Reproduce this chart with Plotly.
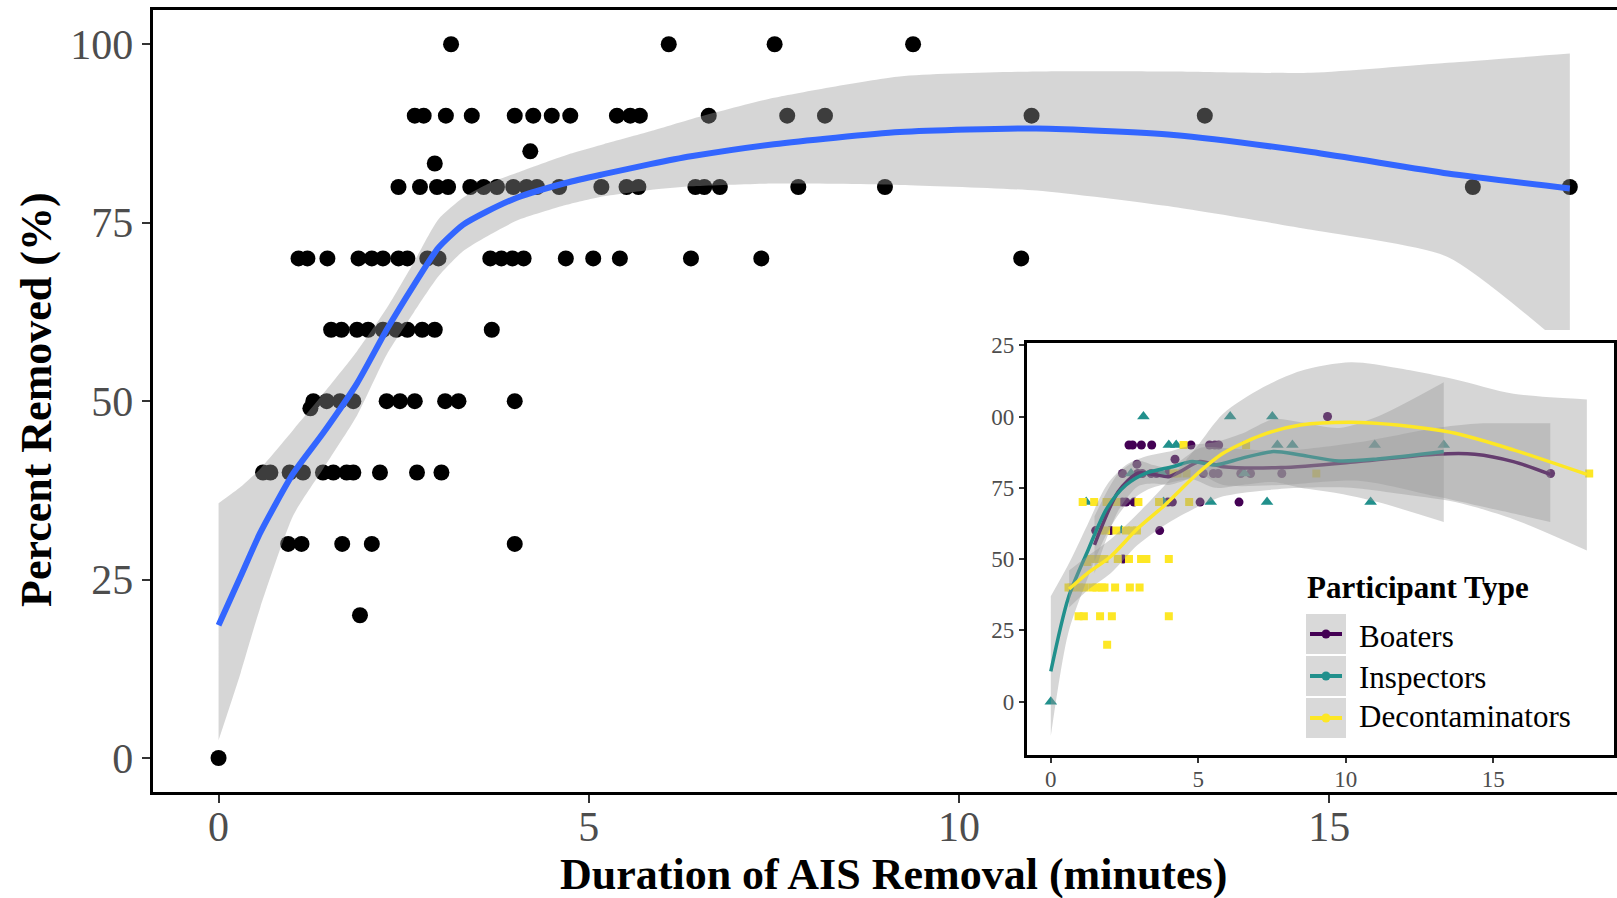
import plotly.graph_objects as go

W, H = 1617, 898

# ---------------- data ----------------
# Boaters
boat_x = [9.38, 2.65, 2.77, 3.07, 3.42, 4.75, 5.38, 5.56, 5.69, 2.92, 4.21,
          2.43, 2.95, 3.10, 3.40, 3.58, 3.98, 5.17, 5.51, 5.67, 6.44, 6.77, 7.83, 16.94,
          2.43, 2.55, 2.82, 3.97, 4.12, 5.06, 6.38, 1.52, 2.02, 3.69, 2.45]
boat_y = [100, 90, 90, 90, 90, 90, 90, 90, 90, 83.3, 85,
          80, 80, 80, 80, 80, 80, 80, 80, 80, 80, 80, 80, 80,
          70, 70, 70, 70, 70, 70, 70, 60, 60, 60, 50]
# Inspectors
insp_x = [3.14, 6.08, 7.51, 4.0, 4.25, 7.68, 8.19, 10.98, 13.32, 2.72, 3.76, 6.56,
          1.2, 3.82, 5.42, 7.33, 10.84, 2.4, 0]
insp_y = [100, 100, 100, 90, 90, 90, 90, 90, 90, 80, 80, 80,
          70, 70, 70, 70, 70, 60, 0]
# Decontaminators
deco_x = [4.5, 6.62, 4.16, 4.30, 4.60, 9.0, 18.25,
          1.08, 1.47, 1.89, 2.07, 2.22, 2.97, 3.67, 4.69,
          1.66, 1.87, 2.22, 2.55, 2.75, 2.92,
          1.28, 1.46, 1.64, 1.82, 2.27, 2.65, 3.06, 3.24, 4.0, 1.24,
          0.6, 0.7, 0.96, 1.14, 1.41, 1.55, 1.73, 1.82, 2.18, 2.68, 3.01,
          0.94, 1.12, 1.67, 2.07, 4.0, 1.91]
deco_y = [90, 90, 80, 80, 80, 80, 80,
          70, 70, 70, 70, 70, 70, 70, 70,
          60, 60, 60, 60, 60, 60,
          50, 50, 50, 50, 50, 50, 50, 50, 50, 49,
          40, 40, 40, 40, 40, 40, 40, 40, 40, 40, 40,
          30, 30, 30, 30, 30, 20]

# overall smooth (loess) with confidence band
fit_x = [0, 0.3, 0.56, 1.01, 1.41, 1.87, 2.27, 2.64, 2.97, 3.3, 3.61, 4.03, 4.7, 5.2,
         5.83, 6.38, 7.5, 9.2, 11.05, 12.9, 14.76, 16.6, 18.25]
fit_y = [18.6, 25.5, 31.5, 39.9, 45.5, 52.5, 60, 66.3, 71.5, 74.7, 76.5, 78.5, 80.6, 81.8,
         83.2, 84.3, 86.0, 87.7, 88.2, 87.3, 84.9, 81.9, 79.8]
fit_hi = [35.7, 38, 40.5, 46, 51, 57, 63, 69.5, 75.5, 78.5, 80.3, 82, 84.5, 86,
          87.8, 89.5, 92.5, 95.5, 96.2, 96.2, 96.0, 97.4, 98.7]
fit_lo = [2.5, 12, 21, 34, 40.5, 48, 56.5, 62.5, 67.5, 71, 73, 75.3, 77.5, 78.7,
          79.6, 80.1, 80.5, 80.3, 79.5, 77.2, 74, 70.2, 57]

# per-group smooths (inset)
boat_fx = [1.48, 2.29, 2.95, 3.47, 4.0, 4.39, 5.05, 5.84, 7.8, 10.43, 13.05, 14.37, 15.68, 16.93]
boat_fy = [55, 73.7, 80.1, 79.7, 78.9, 80.7, 84.2, 82.4, 82.1, 84.2, 86.8, 86.8, 84.2, 79.7]
boat_hi = [65, 80, 84.5, 83, 82, 84.5, 89, 89, 88, 91, 96, 97.5, 97.6, 97.6]
boat_lo = [45, 67, 75.5, 76.5, 76, 77, 79.5, 76, 76, 77.5, 72, 69, 66, 63]

insp_fx = [0, 0.59, 1.24, 1.9, 2.55, 3.21, 4.13, 4.79, 5.57, 6.49, 7.54, 8.46, 9.77, 11.08, 13.32]
insp_fy = [10.6, 36.3, 52.6, 67.8, 76, 80.1, 82.4, 84.2, 83, 85.4, 87.7, 86.5, 84.4, 85.1, 87.7]
insp_hi = [37, 48, 62, 76, 83, 86, 88, 90, 91, 94, 99, 98, 96, 100, 112]
insp_lo = [-12, 24, 43, 59, 69, 74, 77, 78, 75, 76, 77, 75, 73, 70, 63]

deco_fx = [0.62, 1.24, 2.03, 2.95, 3.87, 4.92, 5.84, 7.15, 8.46, 10.17, 11.74, 13.71, 15.68, 18.17]
deco_fy = [39.5, 45, 50.9, 60.8, 69, 79.5, 87.1, 93.5, 97, 98, 97, 94.1, 88.3, 79.7]
deco_hi = [46, 51, 57, 66, 76, 89, 101, 110, 116, 119, 117, 113, 108, 106]
deco_lo = [33, 39, 45, 55, 62, 68, 72, 74, 75, 75, 73, 70, 64, 53]

x_ticks = [0, 5, 10, 15]
y_ticks = [0, 25, 50, 75, 100]
inset_y_ticks = [0, 25, 50, 75, 100, 125]
inset_y_text = ["0", "25", "50", "75", "00", "25"]

groups = ["Boaters", "Inspectors", "Decontaminators"]
group_colors = ["#440154", "#21908C", "#FDE725"]
group_symbols = ["circle", "triangle-up", "square"]

main_x = boat_x + insp_x + deco_x
main_y = boat_y + insp_y + deco_y

RIB = "rgba(153,153,153,0.4)"
SERIF = "Liberation Serif"


def ribbon(fig, xs, lo, hi, xa, ya, smooth):
    fig.add_trace(go.Scatter(x=xs, y=lo, mode="lines", line=dict(width=0, shape="spline", smoothing=smooth),
                             xaxis=xa, yaxis=ya, hoverinfo="skip"))
    fig.add_trace(go.Scatter(x=xs, y=hi, mode="lines", line=dict(width=0, shape="spline", smoothing=smooth),
                             fill="tonexty", fillcolor=RIB, xaxis=xa, yaxis=ya, hoverinfo="skip"))


fig = go.Figure()

# ---------------- main panel ----------------
fig.add_trace(go.Scatter(x=main_x, y=main_y, mode="markers",
                         marker=dict(size=16, color="black", line=dict(width=0)),
                         xaxis="x", yaxis="y", hoverinfo="skip"))
ribbon(fig, fit_x, fit_lo, fit_hi, "x", "y", 0.6)
fig.add_trace(go.Scatter(x=fit_x, y=fit_y, mode="lines",
                         line=dict(color="#3366FF", width=6, shape="spline", smoothing=0.6),
                         xaxis="x", yaxis="y", hoverinfo="skip"))

# white pad behind the inset (its own subplot so it masks the main panel)
fig.add_trace(go.Scatter(x=[0.5], y=[0.5], mode="markers", marker=dict(opacity=0),
                         xaxis="x2", yaxis="y2", hoverinfo="skip"))

# ---------------- inset panel ----------------
gx = [boat_x, insp_x, deco_x]
gy = [boat_y, insp_y, deco_y]
sizes = [9, 11, 8]
for i in range(3):
    fig.add_trace(go.Scatter(x=gx[i], y=gy[i], mode="markers",
                             marker=dict(size=sizes[i], color=group_colors[i],
                                         symbol=group_symbols[i], line=dict(width=0)),
                             xaxis="x3", yaxis="y3", hoverinfo="skip"))

sm = [(boat_fx, boat_fy, boat_lo, boat_hi), (insp_fx, insp_fy, insp_lo, insp_hi),
      (deco_fx, deco_fy, deco_lo, deco_hi)]
for i, (fx, fy, lo, hi) in enumerate(sm):
    ribbon(fig, fx, lo, hi, "x3", "y3", 0.8)
    fig.add_trace(go.Scatter(x=fx, y=fy, mode="lines",
                             line=dict(color=group_colors[i], width=3.5, shape="spline", smoothing=0.8),
                             xaxis="x3", yaxis="y3", hoverinfo="skip"))

# ---------------- layout ----------------
tickfont_main = dict(family=SERIF, size=42, color="#4D4D4D")
tickfont_in = dict(family=SERIF, size=23, color="#4D4D4D")

fig.update_layout(
    template="none",
    width=W, height=H, margin=dict(l=0, r=0, t=0, b=0, pad=0, autoexpand=False),
    paper_bgcolor="white", plot_bgcolor="white", showlegend=False,
    xaxis=dict(domain=[152.6 / W, 1], range=[-0.891, 18.887], tickvals=x_ticks,
               ticks="outside", ticklen=8, tickwidth=2, tickcolor="#333333",
               showline=True, linecolor="black", linewidth=3, mirror=True, automargin=False,
               ticklabelstandoff=-12,
               showgrid=False, zeroline=False, tickfont=tickfont_main, anchor="y"),
    yaxis=dict(domain=[1 - 792 / H, 1 - 10.3 / H], range=[-4.76, 104.76], tickvals=y_ticks,
               ticks="outside", ticklen=8, tickwidth=2, tickcolor="#333333",
               showline=True, linecolor="black", linewidth=3, mirror=False, automargin=False,
               showgrid=False, zeroline=False, tickfont=tickfont_main, anchor="x"),
    xaxis2=dict(domain=[975 / W, 1], range=[0, 1], showline=False, automargin=False,
                showticklabels=False, showgrid=False, zeroline=False, ticks="", anchor="y2"),
    yaxis2=dict(domain=[1 - 787 / H, 1 - 330 / H], range=[0, 1], showline=False, automargin=False,
                showticklabels=False, showgrid=False, zeroline=False, ticks="", anchor="x2"),
    xaxis3=dict(domain=[1026.7 / W, 1614 / W], range=[-0.817, 19.09], tickvals=x_ticks,
                ticks="outside", ticklen=5, tickwidth=1.5, tickcolor="#333333",
                showline=True, linecolor="black", linewidth=2.5, mirror=True, automargin=False,
                ticklabelstandoff=-3,
                showgrid=False, zeroline=False, tickfont=tickfont_in, anchor="y3"),
    yaxis3=dict(domain=[1 - 755 / H, 1 - 343.3 / H], range=[-18.69, 125.67],
                tickvals=inset_y_ticks, ticktext=inset_y_text,
                ticks="outside", ticklen=5, tickwidth=1.5, tickcolor="#333333",
                showline=True, linecolor="black", linewidth=2.5, mirror=True, automargin=False,
                showgrid=False, zeroline=False, tickfont=tickfont_in, anchor="x3"),
)

ann = []
ann.append(dict(text="<b>Duration of AIS Removal (minutes)</b>", x=893 / W, y=1 - 874 / H,
                xref="paper", yref="paper", showarrow=False, xanchor="center", yanchor="middle",
                font=dict(family=SERIF, size=44, color="black")))
ann.append(dict(text="<b>Percent Removed (%)</b>", x=36 / W, y=1 - 400 / H, textangle=-90,
                xref="paper", yref="paper", showarrow=False, xanchor="center", yanchor="middle",
                font=dict(family=SERIF, size=44, color="black")))
ann.append(dict(text="<b>Participant Type</b>", x=1305 / W, y=1 - 587 / H,
                xref="paper", yref="paper", showarrow=False, xanchor="left", yanchor="middle",
                font=dict(family=SERIF, size=31, color="black")))

shapes = []
box_tops = [614, 656, 698]
label_y = [636, 677, 716]
for i in range(3):
    t = box_tops[i]
    cy = t + 20
    shapes.append(dict(type="rect", xref="paper", yref="paper", layer="above",
                       x0=1306 / W, x1=1346 / W, y0=1 - (t + 40) / H, y1=1 - t / H,
                       fillcolor="#D9D9D9", line=dict(width=0)))
    shapes.append(dict(type="line", xref="paper", yref="paper", layer="above",
                       x0=1310 / W, x1=1342 / W, y0=1 - cy / H, y1=1 - cy / H,
                       line=dict(color=group_colors[i], width=4)))
    r = 4.5
    shapes.append(dict(type="circle", xref="paper", yref="paper", layer="above",
                       x0=(1326 - r) / W, x1=(1326 + r) / W, y0=1 - (cy + r) / H, y1=1 - (cy - r) / H,
                       fillcolor=group_colors[i], line=dict(width=0)))
    ann.append(dict(text=groups[i], x=1357 / W, y=1 - label_y[i] / H,
                    xref="paper", yref="paper", showarrow=False, xanchor="left", yanchor="middle",
                    font=dict(family=SERIF, size=31, color="black")))

fig.update_layout(annotations=ann, shapes=shapes)

fig.write_html("out.html")
